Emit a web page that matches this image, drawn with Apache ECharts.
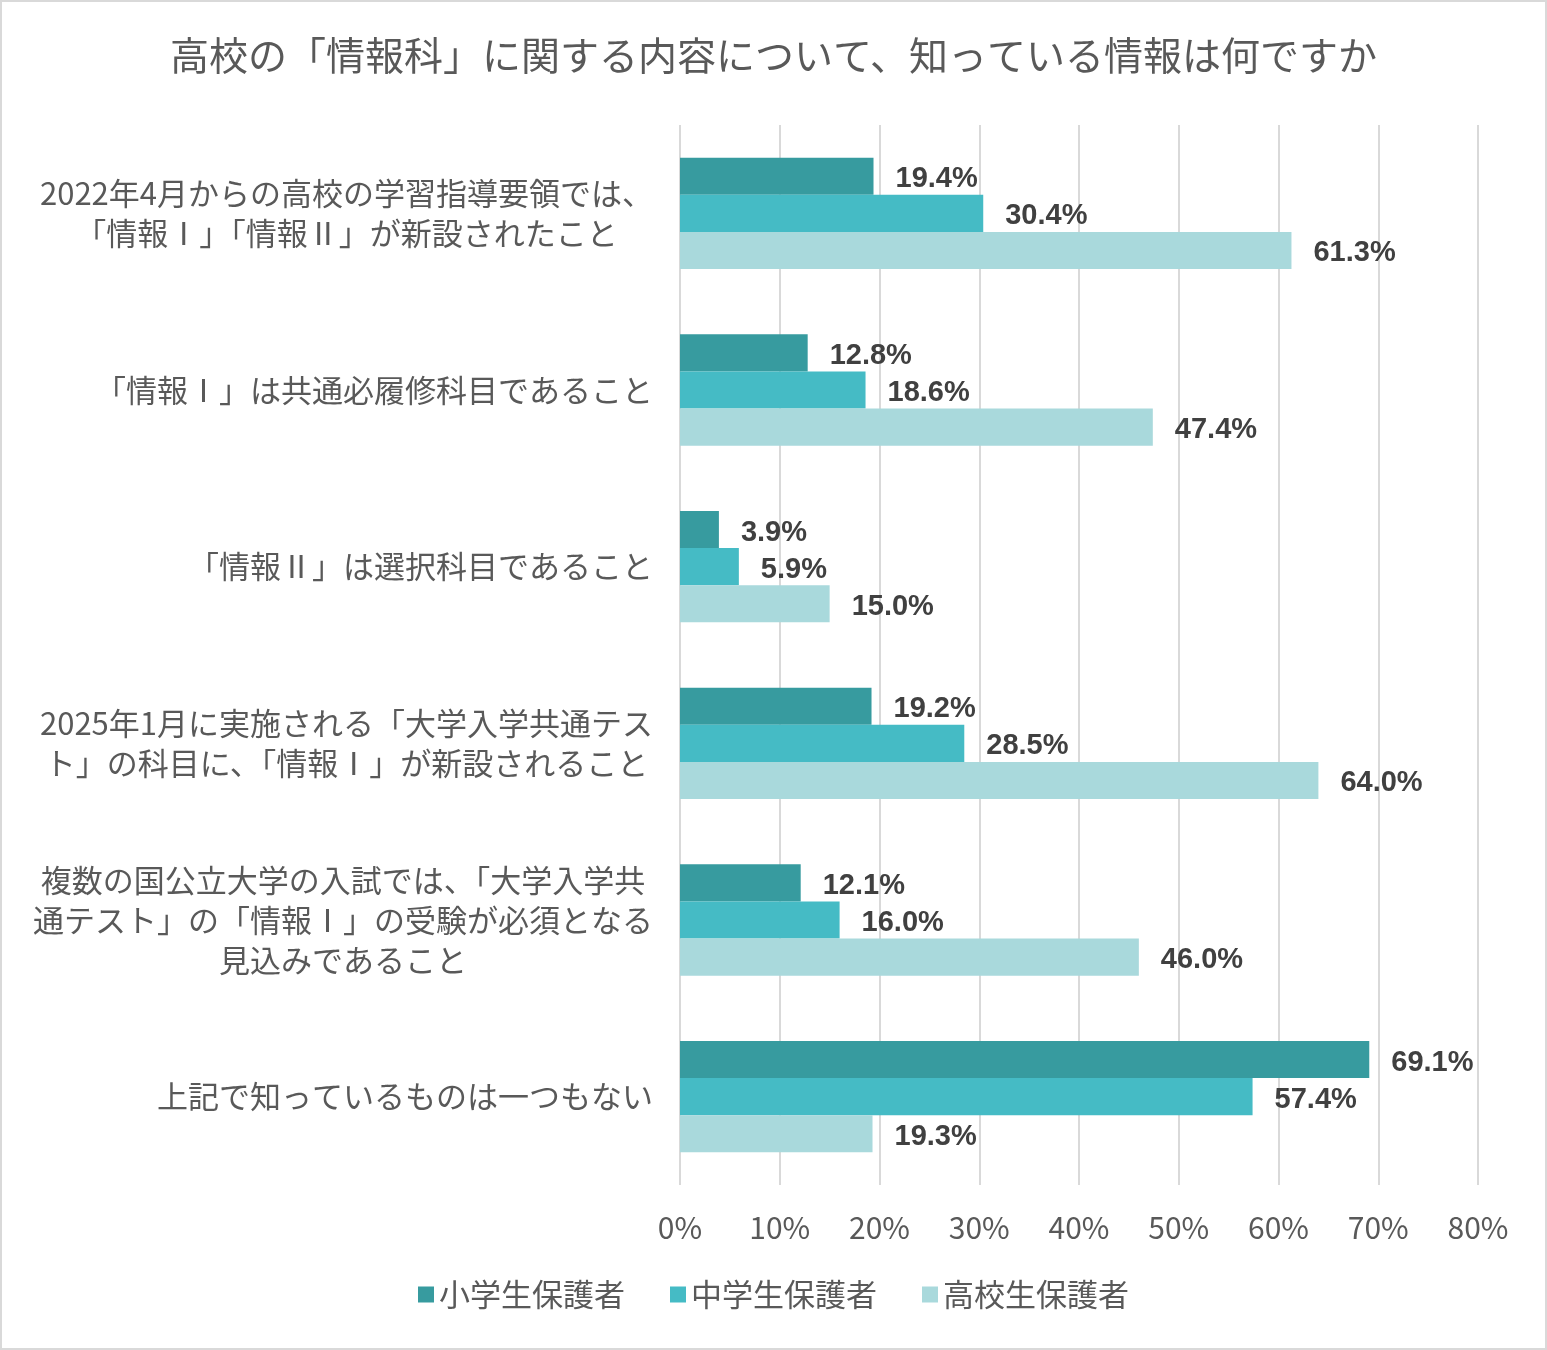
<!DOCTYPE html>
<html>
<head>
<meta charset="utf-8">
<script src="https://cdn.jsdelivr.net/npm/echarts@6/dist/echarts.min.js"></script>
<style>
  html,body{margin:0;padding:0;background:#fff}
  #chart{width:1547px;height:1350px;box-sizing:border-box;border:2px solid #d9d9d9}
</style>
</head>
<body>
<div id="chart"></div>
<script>
// ---------- データ ----------
const categories = [
  '2022年4月からの高校の学習指導要領では、\n「情報Ⅰ」「情報Ⅱ」が新設されたこと',
  '「情報Ⅰ」は共通必履修科目であること',
  '「情報Ⅱ」は選択科目であること',
  '2025年1月に実施される「大学入学共通テス\nト」の科目に、「情報Ⅰ」が新設されること',
  '複数の国公立大学の入試では、「大学入学共\n通テスト」の「情報Ⅰ」の受験が必須となる\n見込みであること',
  '上記で知っているものは一つもない'
];
const seriesNames = ['小学生保護者', '中学生保護者', '高校生保護者'];
const elementary = [19.4, 12.8, 3.9, 19.2, 12.1, 69.1];
const juniorHigh = [30.4, 18.6, 5.9, 28.5, 16.0, 57.4];
const highSchool = [61.3, 47.4, 15.0, 64.0, 46.0, 19.3];
const xTicks = [0, 10, 20, 30, 40, 50, 60, 70, 80];

const colors = ['#379b9f', '#45bbc5', '#a9d9dc'];
const jp = '"Noto Sans CJK JP", "Noto Sans", sans-serif';

const chart = echarts.init(document.getElementById('chart'));

function barSeries(name, data, color){
  return {
    name, type:'bar', data,
    barGap:'0%', barCategoryGap:'37%',
    itemStyle:{color},
    label:{
      show:true, position:'right', distance:22, offset:[0,3],
      formatter:p=>p.value.toFixed(1)+'%',
      color:'#404040', fontSize:29, fontWeight:'bold',
      fontFamily:'"Liberation Sans", Arial, sans-serif'
    }
  };
}

chart.setOption({
  animation:false,
  title:{
    text:'高校の「情報科」に関する内容について、知っている情報は何ですか',
    left:'center', top:29,
    textStyle:{color:'#595959', fontSize:39, fontWeight:'normal', fontFamily:jp}
  },
  legend:{
    data:seriesNames, bottom:33, left:'center',
    icon:'rect', itemWidth:16, itemHeight:16, itemGap:45,
    textStyle:{color:'#595959', fontSize:31, fontFamily:jp}
  },
  grid:{left:678, right:67, top:123, bottom:163, containLabel:false},
  xAxis:{
    type:'value', min:xTicks[0], max:xTicks[xTicks.length-1], interval:10,
    axisLine:{show:false}, axisTick:{show:false},
    splitLine:{lineStyle:{color:'#d9d9d9', width:2}},
    axisLabel:{formatter:'{value}%', color:'#595959', fontSize:30, margin:28, fontFamily:jp}
  },
  yAxis:{
    type:'category', data:categories, inverse:true,
    axisLine:{show:false}, axisTick:{show:false},
    axisLabel:{
      margin:27, align:'right',
      formatter:v=>'{c|'+v+'}',
      rich:{c:{align:'center', color:'#595959', fontSize:31, lineHeight:40, fontFamily:jp}}
    }
  },
  series:[
    barSeries(seriesNames[0], elementary, colors[0]),
    barSeries(seriesNames[1], juniorHigh, colors[1]),
    barSeries(seriesNames[2], highSchool, colors[2])
  ]
});
</script>
</body>
</html>
